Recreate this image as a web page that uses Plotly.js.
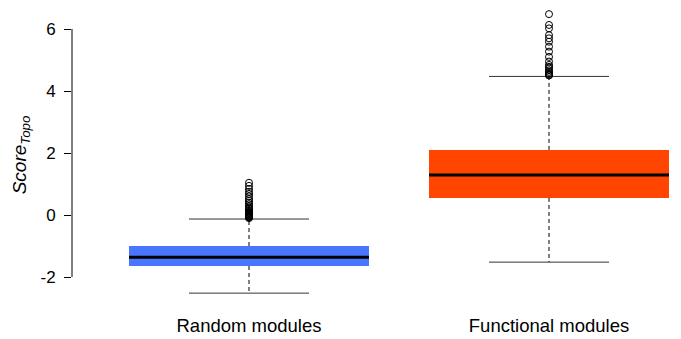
<!DOCTYPE html>
<html><head><meta charset="utf-8">
<script src="https://cdn.plot.ly/plotly-3.0.1.min.js"></script>
<style>body{margin:0;background:#fff}#c{width:681px;height:339px}</style>
</head><body><div id="c"></div>
<script>
const categories = ["Random modules", "Functional modules"];
const q1 = [-1.645, 0.55];
const median = [-1.365, 1.29];
const q3 = [-1.0, 2.1];
const lowerWhisker = [-2.52, -1.52];
const upperWhisker = [-0.13, 4.47];
const outliersRandom = [-0.1, -0.08, -0.06, -0.05, -0.03, -0.02, 0.0, 0.02, 0.04, 0.06, 0.08, 0.1, 0.13, 0.16, 0.2, 0.24, 0.29, 0.35, 0.4, 0.46, 0.52, 0.6, 0.68, 0.75, 0.84, 0.94, 1.04];
const outliersFunctional = [4.5, 4.52, 4.55, 4.58, 4.62, 4.67, 4.73, 4.78, 4.84, 4.95, 5.1, 5.27, 5.43, 5.59, 5.7, 5.8, 6.02, 6.13, 6.48];
const boxColors = ["#4876FF", "#FF4500"];
const yTicks = [-2, 0, 2, 4, 6];

const xs = categories.map((_, i) => i);
const halfBox = 0.4, halfCap = 0.2;
const traces = [];
traces.push({type: 'bar', x: xs, base: q1, y: xs.map(i => q3[i] - q1[i]), width: 0.8,
  marker: {color: boxColors, line: {width: 0}}, hoverinfo: 'skip'});
xs.forEach(i => {
  traces.push({type: 'scatter', mode: 'lines', x: [i, i], y: [q3[i], upperWhisker[i]],
    line: {color: 'black', width: 1, dash: '4px,3px'}});
  traces.push({type: 'scatter', mode: 'lines', x: [i, i], y: [q1[i], lowerWhisker[i]],
    line: {color: 'black', width: 1, dash: '4px,3px'}});
  traces.push({type: 'scatter', mode: 'lines', x: [i - halfCap, i + halfCap], y: [upperWhisker[i], upperWhisker[i]],
    line: {color: '#333', width: 1}});
  traces.push({type: 'scatter', mode: 'lines', x: [i - halfCap, i + halfCap], y: [lowerWhisker[i], lowerWhisker[i]],
    line: {color: '#333', width: 1}});
  traces.push({type: 'scatter', mode: 'lines', x: [i - halfBox, i + halfBox], y: [median[i], median[i]],
    line: {color: 'black', width: 3}});
});
[outliersRandom, outliersFunctional].forEach((arr, i) => {
  traces.push({type: 'scatter', mode: 'markers', x: arr.map(() => i), y: arr,
    marker: {symbol: 'circle-open', size: 7, color: 'black', line: {width: 1}}});
});

const layout = {
  width: 681, height: 339,
  margin: {l: 72, r: 0, t: 5, b: 34},
  showlegend: false,
  plot_bgcolor: '#fff', paper_bgcolor: '#fff',
  font: {family: 'Liberation Sans, Arial, sans-serif', color: 'black'},
  xaxis: {range: [-0.59, 1.44], tickvals: xs, ticktext: categories, showgrid: false, zeroline: false,
    showline: false, ticks: '', tickfont: {size: 18.5}, ticklabelstandoff: 7},
  yaxis: {range: [-2.903, 6.774], tickvals: yTicks, ticktext: yTicks.map(String), showgrid: false, zeroline: false,
    showline: false, ticks: 'outside', ticklen: 7, tickcolor: 'black', tickwidth: 1, tickfont: {size: 17},
    ticklabelstandoff: 5,
    title: {text: '<i>Score<sub>Topo</sub></i>', font: {size: 19}, standoff: 8}},
  shapes: [{type: 'line', xref: 'paper', yref: 'y', x0: 0, x1: 0, y0: yTicks[0], y1: yTicks[yTicks.length - 1],
    line: {color: 'black', width: 1}}]
};
Plotly.newPlot('c', traces, layout, {displayModeBar: false, staticPlot: true});
</script></body></html>
